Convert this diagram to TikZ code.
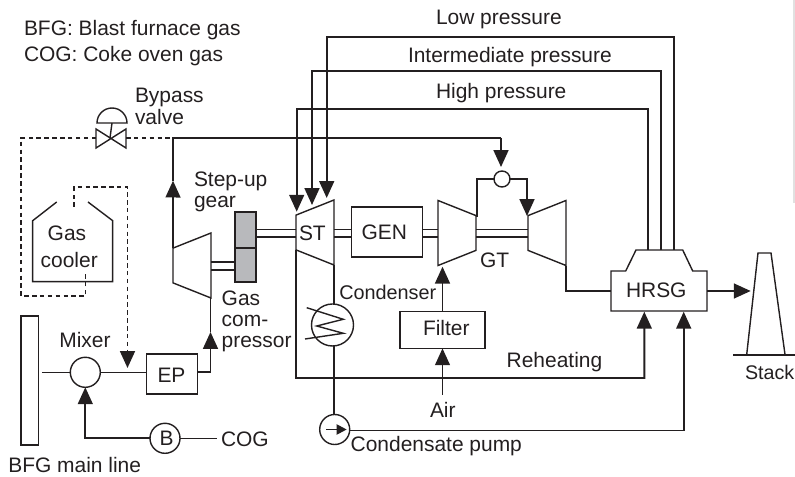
\documentclass[tikz,border=0pt]{standalone}
\usepackage{fontspec}
\setmainfont{Liberation Sans}
\usepackage{xcolor}
\definecolor{plantink}{RGB}{35,31,32}
\definecolor{geargray}{RGB}{184,185,188}
\definecolor{edgegray}{RGB}{225,225,225}
\usetikzlibrary{shapes.geometric, arrows.meta, calc}

\begin{document}
\begin{tikzpicture}[
    x=0.025cm, y=-0.025cm,
    line width=1pt, draw=plantink, text=plantink,
    lbl/.style={inner sep=0pt, outer sep=0pt, anchor=base west, font=\fontsize{14.9}{17}\selectfont},
    boxn/.style={rectangle, draw, inner sep=0pt, outer sep=0pt},
    roundn/.style={circle, draw, inner sep=0pt, outer sep=0pt},
    turbn/.style={trapezium, draw, inner sep=1pt, outer sep=0pt, trapezium stretches=true,
                  trapezium left angle=66.5, trapezium right angle=66.5,
                  minimum width=1.625cm, minimum height=0.95cm},
    arr/.style={-{Triangle[length=0.42cm, width=0.37cm]}, line width=1.35pt},
    pipe/.style={line width=1.35pt},
    ctrl/.style={dashed, dash pattern=on 3.2pt off 2.4pt, line width=1.35pt},
    ctrlarr/.style={ctrl, -{Triangle[length=0.42cm, width=0.37cm]}},
]
\useasboundingbox (0,0) rectangle (795,477);

\fill[edgegray] (793,0) rectangle (795,203);

% legend and steam lines
\node[lbl] (bfgkey) at (24,36) {BFG: Blast furnace gas};
\node[lbl] (cogkey) at (24,61.7) {COG: Coke oven gas};
\node[lbl] (lowtxt) at (436,25) {Low pressure};
\node[lbl] (midtxt) at (408,62.3) {Intermediate pressure};
\node[lbl] (hightxt) at (436,99) {High pressure};

% rotating train
\node[turbn, shape border rotate=90] (comp) at (192,265.5) {};
\node[turbn, shape border rotate=90] (st) at (315,232.5) {};
\node[turbn, shape border rotate=270] (gtc) at (457,233) {};
\node[turbn, shape border rotate=90] (gtt) at (547,233) {};
\node[boxn, fill=geargray, minimum width=0.525cm, minimum height=0.9cm] (gearup) at (245.5,230) {};
\node[boxn, fill=geargray, minimum width=0.525cm, minimum height=0.85cm] (gearlow) at (245.5,265) {};
\node[boxn, minimum width=1.785cm, minimum height=1.25cm] (gen) at (387,232) {};
\node[lbl] (genlbl) at (361.5,240) {GEN};
\node[lbl] (stlbl) at (299,240.5) {ST};
\node[lbl] (gtlbl) at (480,268) {GT};

\foreach \yy in {229.5,237} {
  \draw[pipe] (256,\yy) -- (296,\yy);
  \draw[pipe] (334,\yy) -- (351,\yy);
  \draw[pipe] (423,\yy) -- (438,\yy);
  \draw[pipe] (476,\yy) -- (528,\yy);
}
\foreach \yy in {262,270} {
  \draw[pipe] (211,\yy) -- (235,\yy);
}

% HRSG and stack
\node[lbl, anchor=center, minimum width=2.4cm, minimum height=1cm] (hrsg) at (659,291) {};
\node[lbl] (hrsglbl) at (626,297.7) {HRSG};
\draw (hrsg.south west) -- (hrsg.north west) -- (625.7,271) -- (636,250) -- (682.7,250)
      -- (692.7,271) -- (hrsg.north east) -- (hrsg.south east) -- cycle;
\coordinate (hpout) at (648,250);
\coordinate (ipout) at (660.7,250);
\coordinate (lpout) at (673.7,250);
\coordinate (hpin) at (296.7,211.7);
\coordinate (ipin) at (312,205);
\coordinate (lpin) at (326.7,198);
\draw[arr] (hpout) -- (648,109) -| (hpin);
\draw[arr] (ipout) -- (660.7,71) -| (ipin);
\draw[arr] (lpout) -- (673.7,37) -| (lpin);

\coordinate (stackin) at (750.7,291);
\draw[arr] (hrsg.east) -- (stackin);
\draw (746.7,354.5) -- (758,253) -- (771,253) -- (785,354.5);
\draw (733,355) -- (795,355);
\node[lbl, font=\fontsize{14}{17}\selectfont] (stacktxt) at (745,380) {Stack};

% gas side
\node[boxn, minimum width=0.44cm, minimum height=3.23cm] (bfgline) at (29.8,380.5) {};
\node[roundn, minimum size=0.75cm] (mixer) at (85.3,372.3) {};
\node[boxn, minimum width=1.27cm, minimum height=1cm] (ep) at (172,374) {};
\node[lbl] (eplbl) at (157.5,382.7) {EP};
\node[roundn, minimum size=0.75cm] (blower) at (165,438.3) {};
\node[lbl] (blowerlbl) at (159.5,445.7) {B};
\coordinate (cogend) at (217,438.3);
\node[lbl] (cogtxt) at (221,446.7) {COG};
\node[lbl] (mixtxt) at (59.3,348) {Mixer};
\node[lbl] (bfgtxt) at (8.3,472.7) {BFG main line};
\draw ([xshift=0.08cm]bfgline.east |- mixer) -- (mixer);
\draw (mixer) -- (ep.west |- mixer);
\coordinate (compin) at (210.5,332);
\draw[arr] (ep.east |- mixer) -| (compin);
\draw[pipe] (compin) -- (210.5,298);
\draw (blower) -- (cogend);
\draw[arr] (blower) -| (mixer.south);

% bypass
\coordinate (valve) at (110,138);
\coordinate (bypasstop) at (173,138);
\coordinate (coolerbot) at (85.5,272);
\coordinate (coolertop) at (74,207);
\coordinate (ctrlin) at (127.5,368);
\draw (96,129) -- (96,148) -- (126,129) -- (126,148) -- cycle;
\draw (valve) -- (112,123);
\draw (97,123) arc[start angle=180, end angle=360, x radius=15, y radius=15] -- cycle;
\node[lbl] (bypasstxt) at (135,103) {Bypass};
\node[lbl] (valvetxt) at (135,125) {valve};
\draw[ctrl] (96,138) -- (21,138) |- (85.5,296) -- (coolerbot);
\draw[ctrl] (126,138) -- (bypasstop);
\draw[ctrlarr] (coolertop) |- (127.5,187) -- (ctrlin);
\draw (56.7,202) -- (32.7,220.7) -- (32.7,281.7) -- (112.7,281.7) -- (112.7,220.7) -- (88,202);
\node[lbl] (gastxt) at (47.7,240.7) {Gas};
\node[lbl] (coolertxt) at (40.7,267.7) {cooler};
\node[lbl] (steptxt) at (194,186.7) {Step-up};
\node[lbl] (geartxt) at (194,208) {gear};
\node[lbl] (compa) at (221.7,306) {Gas};
\node[lbl] (compb) at (221.7,326.7) {com-};
\node[lbl] (compc) at (221.7,348) {pressor};

\coordinate (bypassarr) at (173,180.7);
\draw[arr] (comp.top right corner) -- (bypassarr);
\draw[pipe] (bypassarr) -- (bypasstop) -- (501,138) coordinate (combtop);
\node[roundn, minimum size=0.4cm] (comb) at (502,179) {};
\draw[arr] (combtop) -- (501,167);
\draw[pipe] (comb.west) -| (477,217);
\draw[arr] (comb.east) -| (527,216);

% water side
\node[roundn, minimum size=1.05cm] (cond) at (332.5,325) {};
\draw (306.7,307.7) -- (343.3,319.3) -- (316.7,326) -- (343.3,333.3) -- (305,339);
\node[roundn, minimum size=0.75cm] (pump) at (334.7,429.5) {};
\draw[-{Triangle[length=0.25cm, width=0.25cm]}, line width=1.35pt] (326,429.5) -- (346.7,429.5);
\node[lbl, font=\fontsize{14.1}{17}\selectfont] (condtxt) at (339.3,300) {Condenser};
\node[lbl] (pumptxt) at (350.7,452) {Condensate pump};
\node[lbl] (reheattxt) at (506.7,368) {Reheating};
\node[boxn, minimum width=2.125cm, minimum height=0.92cm] (filter) at (442.5,330) {};
\node[lbl] (filterlbl) at (423,336) {Filter};
\node[lbl] (airtxt) at (430,418) {Air};
\coordinate (airout) at (442.5,395);
\draw[pipe] (334,265) -- (334,304);
\draw[pipe] (334,346) -- (334,414);
\coordinate (reheatin) at (644.3,311.7);
\coordinate (feedin) at (683.7,311.7);
\draw[arr] (st.top left corner) -- (296,378) -| (reheatin);
\draw[arr] (349.5,430.5) -| (feedin);
\draw[arr] (filter.north) -- (442.5,266.7);
\draw[arr] (airout) -- (filter.south);
\draw[pipe] (gtt.bottom left corner) |- (hrsg.west);
\end{tikzpicture}
\end{document}
